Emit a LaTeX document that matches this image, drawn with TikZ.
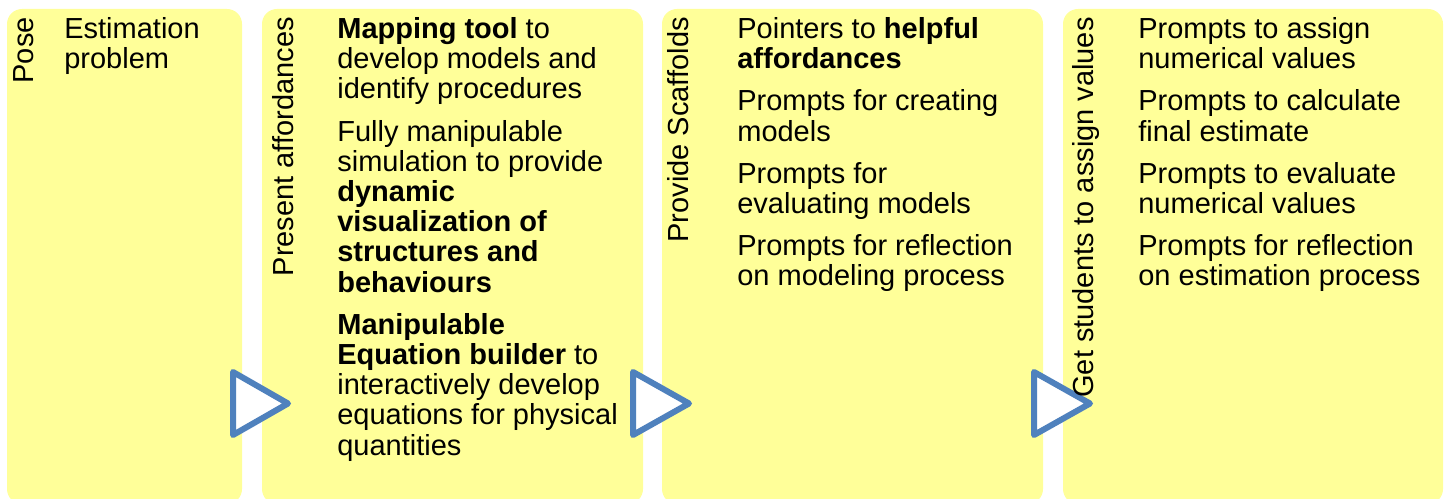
\documentclass[tikz,border=0pt]{standalone}
\usepackage{fontspec}
\setmainfont{Liberation Sans}
\usepackage{xcolor}
\usepackage{tikz}

\definecolor{panelyellow}{RGB}{255,255,153}
\definecolor{chevblue}{RGB}{79,129,189}

\begin{document}
\begin{tikzpicture}[x=0.02cm,y=-0.02cm,
    panel/.style={fill=panelyellow, rounded corners=0.3cm},
    chev/.style={draw=chevblue, fill=white, line width=0.12cm, line join=round},
    steplabel/.style={rotate=90, anchor=base east, inner sep=0pt, font=\fontsize{16.5pt}{17.2pt}\selectfont},
    steptext/.style={anchor=north west, align=left, inner sep=0pt, font=\fontsize{16.5pt}{17.2pt}\selectfont}]
                    \useasboundingbox (0,0) rectangle (1452,499);
                    \fill[panel] (7,9) rectangle (242,504);
                    \fill[panel] (262,9) rectangle (643,504);
                    \fill[panel] (662,9) rectangle (1043,504);
                    \fill[panel] (1063,9) rectangle (1443,504);

                    \draw[chev] (233,372) -- (288,403.5) -- (233,435) -- cycle;
                    \draw[chev] (633,372) -- (689,403.5) -- (633,435) -- cycle;
                    \draw[chev] (1034,372) -- (1090,403.5) -- (1034,435) -- cycle;

                    \node[steplabel] (pose) at (33,17) {Pose};
                    \node[steplabel] (present) at (293,17) {Present affordances};
                    \node[steplabel] (provide) at (688,17) {Provide Scaffolds};
                    \node[steplabel] (assign) at (1093,17) {Get students to assign values};

                    \node[steptext] (problem) at (64,17) {Estimation\\problem};
                    \node[steptext] (tools) at (337,17) {\textbf{Mapping tool} to\\develop models and\\identify procedures\\[0.24cm]
                        Fully manipulable\\simulation to provide\\\textbf{dynamic}\\\textbf{visualization of}\\\textbf{structures and}\\\textbf{behaviours}\\[0.24cm]
                        \textbf{Manipulable}\\\textbf{Equation builder} to\\interactively develop\\equations for physical\\quantities};
                    \node[steptext] (scaffolds) at (737,17) {Pointers to \textbf{helpful}\\\textbf{affordances}\\[0.24cm]
                        Prompts for creating\\models\\[0.24cm]
                        Prompts for\\evaluating models\\[0.24cm]
                        Prompts for reflection\\on modeling process};
                    \node[steptext] (values) at (1138,17) {Prompts to assign\\numerical values\\[0.24cm]
                        Prompts to calculate\\final estimate\\[0.24cm]
                        Prompts to evaluate\\numerical values\\[0.24cm]
                        Prompts for reflection\\on estimation process};
                \end{tikzpicture}
\end{document}
